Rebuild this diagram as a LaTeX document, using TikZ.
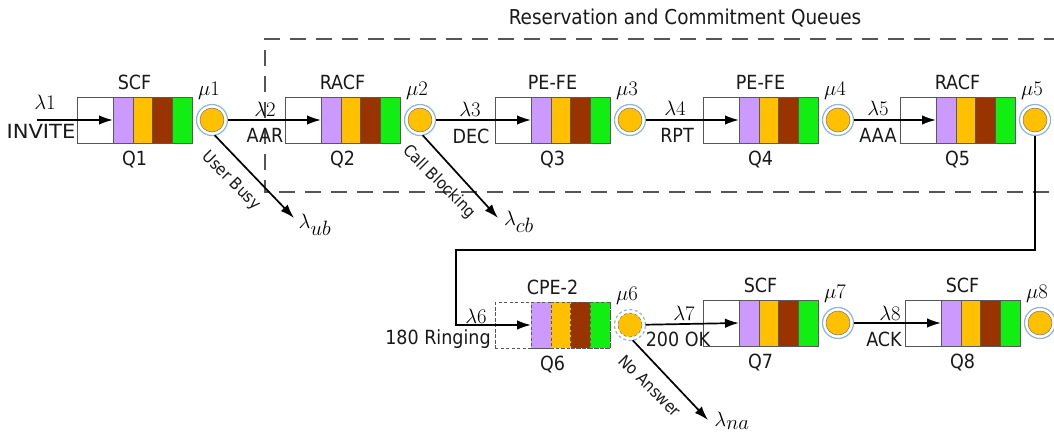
\documentclass[tikz,border=0pt]{standalone}
\usepackage{fontspec}
\newfontfamily\tah{DejaVu Sans Condensed}
\usetikzlibrary{arrows.meta,calc}
\definecolor{cpurple}{HTML}{CC99FF}
\definecolor{corange}{HTML}{FFC000}
\definecolor{cbrown}{HTML}{993300}
\definecolor{cgreen}{HTML}{11EE11}
\definecolor{cring}{HTML}{8FB4D4}
\definecolor{cedge}{HTML}{555555}
\tikzset{
  qbox/.style={draw=cedge, line width=0.9pt, minimum width=115pt, minimum height=46pt,
    inner sep=0pt, outer sep=0pt, anchor=west, fill=white},
  seg/.style={draw=black!65, line width=0.5pt, minimum width=19.75pt, minimum height=46pt,
    inner sep=0pt, outer sep=0pt, anchor=west},
  ring/.style={circle, draw=cring, line width=1.2pt, fill=white, minimum size=31pt,
    inner sep=0pt, outer sep=0pt},
  core/.style={circle, draw=black!55, line width=0.5pt, fill=corange, minimum size=24pt,
    inner sep=0pt},
  dsh/.style={dashed, dash pattern=on 3pt off 2.5pt},
  lbl/.style={font=\tah\fontsize{19.5}{22}\selectfont, inner sep=0pt, text=black!90},
  slbl/.style={font=\tah\fontsize{16.5}{19}\selectfont, inner sep=0pt, text=black!90, rotate=-45},
  mlbl/.style={font=\fontsize{20}{24}\selectfont, inner sep=0pt},
  arr/.style={line width=1.7pt, -{Latex[length=14pt,width=9.5pt]}},
  region/.style={draw=cedge, line width=1.4pt, dash pattern=on 16pt off 10pt},
}
% #1 index, #2 x-left, #3 y-centre, #4 upper label, #5 extra style
\newcommand\Queue[5]{%
  \node[qbox,#5] (q#1) at (#2,#3) {};
  \node[seg,fill=cpurple,#5] (q#1p) at ([xshift=36pt]q#1.west) {};
  \node[seg,fill=corange,#5] (q#1o) at (q#1p.east) {};
  \node[seg,fill=cbrown,#5] (q#1b) at (q#1o.east) {};
  \node[seg,fill=cgreen,#5] (q#1g) at (q#1b.east) {};
  \node[lbl] (q#1t) at ([yshift=15pt]q#1.north) {#4};
  \node[lbl] (q#1n) at ([yshift=-17pt]q#1.south) {Q#1};
  \node[ring,#5] (m#1) at ([xshift=20pt]q#1.east) {};
  \node[core,#5] (m#1c) at (m#1) {};
  \node[mlbl] (mu#1) at ([shift={(-3pt,29pt)}]m#1) {$\mu#1$};
}
\begin{document}
\begin{tikzpicture}[x=1pt,y=-1pt]
\useasboundingbox (0,0) rectangle (1054,436);
% region
\draw[region] (1060,39) -- (265,39) -- (265,192) -- (1060,192);
\node[lbl, font=\tah\fontsize{20.5}{24}\selectfont] (title) at (685,18) {Reservation and Commitment Queues};
% queues
\Queue{1}{77}{120}{SCF}{}
\Queue{2}{285}{120}{RACF}{}
\Queue{3}{495}{120}{PE-FE}{}
\Queue{4}{703}{120}{PE-FE}{}
\Queue{5}{900}{120}{RACF}{}
\Queue{6}{495}{325}{CPE-2}{dsh}
\Queue{7}{703}{323}{SCF}{}
\Queue{8}{905}{323}{SCF}{}
\draw[dsh, draw=cedge, line width=0.9pt] (q6.north west) -- (q6.south west);
% connectors
\coordinate (in1) at (37,120);
\draw[arr] (in1) -- (q1p.west);
\draw[arr] (m1) -- (q2p.west);
\draw[arr] (m2) -- (q3p.west);
\draw[arr] (m3) -- (q4p.west);
\draw[arr] (m4) -- (q5p.west);
\coordinate (bend) at (456,250);
\draw[arr] (m5.south) |- (bend) |- (q6p.west);
\draw[arr] (m6) -- (q7p.west);
\draw[arr] (m7) -- (q8p.west);
% drop-out arrows
\coordinate (ub) at (294,218);
\coordinate (cb) at (498,218);
\coordinate (na) at (708,420);
\draw[arr] (m1.-80) -- (ub);
\draw[arr] (m2.-80) -- (cb);
\draw[arr] (m6.-80) -- (na);
\node[slbl] (tub) at (231,181) {User Busy};
\node[slbl] (tcb) at (439,182) {Call Blocking};
\node[slbl] (tna) at (650,386) {No Answer};
\node[mlbl] (lub) at (315,225) {$\lambda_{\textstyle ub}$};
\node[mlbl] (lcb) at (519,222) {$\lambda_{\textstyle cb}$};
\node[mlbl] (lna) at (732,421) {$\lambda_{\textstyle na}$};
% edge labels
\node[mlbl] (l1) at (45,102) {$\lambda1$};
\node[lbl, xscale=1.2] (e1) at (41,131) {INVITE};
\node[mlbl] (l2) at (265,109) {$\lambda2$};
\node[lbl] (e2) at (265,135) {AAR};
\node[mlbl] (l3) at (470,109) {$\lambda3$};
\node[lbl] (e3) at (471,136) {DEC};
\node[mlbl] (l4) at (675,108) {$\lambda4$};
\node[lbl] (e4) at (677,135) {RPT};
\node[mlbl] (l5) at (878,108) {$\lambda5$};
\node[lbl] (e5) at (878,135) {AAA};
\node[mlbl] (l6) at (476,316) {$\lambda6$};
\node[lbl] (e6) at (438,339) {180 Ringing};
\node[mlbl] (l7) at (684,313) {$\lambda7$};
\node[lbl] (e7) at (678,339) {200 OK};
\node[mlbl] (l8) at (890,313) {$\lambda8$};
\node[lbl] (e8) at (884,339) {ACK};
\end{tikzpicture}
\end{document}
